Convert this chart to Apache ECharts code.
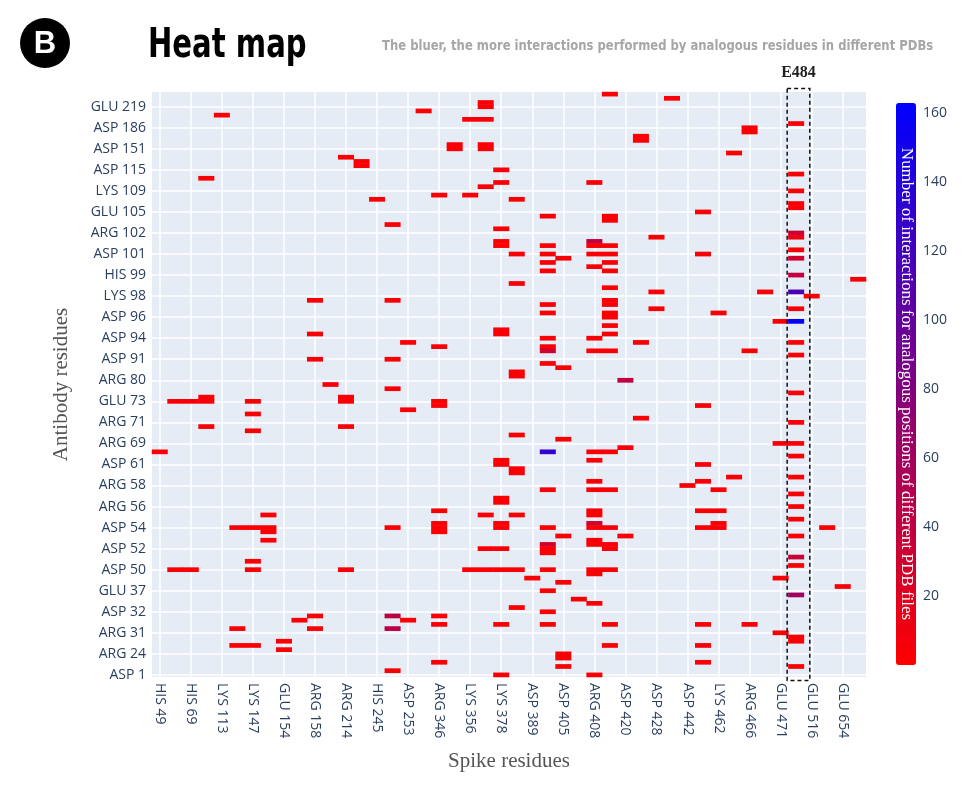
<!DOCTYPE html>
<html><head><meta charset="utf-8">
<script src="https://cdn.jsdelivr.net/npm/echarts@6/dist/echarts.min.js"></script>
<style>html,body{margin:0;padding:0;background:#fff}#c{width:964px;height:786px}</style>
</head><body><div id="c"></div>
<script>
// ---- data ----
const xTickLabels = ['HIS 49','HIS 69','LYS 113','LYS 147','GLU 154','ARG 158','ARG 214','HIS 245','ASP 253','ARG 346','LYS 356','LYS 378','ASP 389','ASP 405','ARG 408','ASP 420','ASP 428','ASP 442','LYS 462','ARG 466','GLU 471','GLU 516','GLU 654'];
const yTickLabels = ['ASP 1','ARG 24','ARG 31','ASP 32','GLU 37','ASP 50','ASP 52','ASP 54','ARG 56','ARG 58','ASP 61','ARG 69','ARG 71','GLU 73','ARG 80','ASP 91','ASP 94','ASP 96','LYS 98','HIS 99','ASP 101','ARG 102','GLU 105','LYS 109','ASP 115','ASP 151','ASP 186','GLU 219'];
const xCount = 46;       // spike residues (every 2nd labelled)
const yCount = 139;      // antibody residues (every 5th labelled)
const xLabelStep = 2, yLabelStep = 5;
const e484Index = 41;
const colorTicks = [20,40,60,80,100,120,140,160];
const colorMin = 0, colorMax = 163;
// [spike index, antibody index, number of interactions]
const cells = [
[29,138,3],[33,137,3],[21,136,3],[21,135,3],[17,134,3],[4,133,3],[20,132,3],[21,132,3],[41,131,3],
[38,130,3],[38,129,3],[31,128,3],[31,127,3],[19,126,3],[21,126,3],[19,125,3],[21,125,3],[37,124,3],
[12,123,3],[13,122,3],[13,121,3],[22,120,3],[41,119,3],[3,118,3],[22,117,3],[28,117,3],[21,116,3],
[41,115,3],[18,114,3],[20,114,3],[14,113,3],[23,113,3],[41,112,3],[41,111,3],[35,110,3],[25,109,3],
[29,109,3],[29,108,3],[15,107,3],[22,106,3],[41,105,35],[32,104,3],[41,104,10],[22,103,3],[28,103,40],
[22,102,3],[25,102,3],[28,102,3],[29,102,3],[41,101,3],[23,100,3],[25,100,3],[28,100,3],[29,100,3],
[35,100,3],[26,99,3],[41,99,30],[25,98,3],[29,98,3],[28,97,3],[25,96,3],[29,96,3],[41,95,40],[45,94,3],
[23,93,3],[29,92,3],[32,91,3],[39,91,3],[41,91,115],[42,90,3],[10,89,3],[15,89,3],[29,89,3],[25,88,3],
[29,88,3],[32,87,3],[41,87,3],[25,86,3],[29,86,3],[36,86,3],[29,85,3],[40,84,3],[41,84,162],[29,83,3],
[22,82,3],[10,81,3],[22,81,3],[29,81,3],[25,80,3],[28,80,3],[16,79,3],[31,79,3],[41,79,3],[18,78,3],
[25,78,3],[25,77,30],[28,77,3],[29,77,3],[38,77,3],[41,76,3],[10,75,3],[15,75,3],[25,74,3],[26,73,3],
[23,72,3],[23,71,3],[30,70,40],[11,69,3],[15,68,3],[41,67,3],[3,66,3],[12,66,3],[1,65,3],[2,65,3],
[3,65,3],[6,65,3],[12,65,3],[18,65,3],[18,64,3],[35,64,3],[16,63,3],[6,62,3],[31,61,3],[41,60,3],
[3,59,3],[12,59,3],[6,58,3],[23,57,3],[26,56,3],[40,55,3],[41,55,3],[30,54,3],[0,53,3],[25,53,130],
[28,53,3],[29,53,3],[41,52,3],[22,51,3],[28,51,3],[22,50,3],[35,50,3],[23,49,3],[23,48,3],[37,47,3],
[41,47,3],[28,46,3],[35,46,3],[34,45,3],[25,44,3],[28,44,3],[29,44,3],[36,44,3],[41,43,3],[22,42,3],
[22,41,3],[41,40,3],[18,39,3],[28,39,3],[35,39,3],[36,39,3],[7,38,3],[21,38,3],[23,38,3],[28,38,3],
[41,37,3],[18,36,3],[22,36,3],[28,36,30],[36,36,3],[5,35,3],[6,35,3],[7,35,3],[15,35,3],[18,35,3],
[22,35,3],[25,35,3],[28,35,3],[29,35,3],[35,35,3],[36,35,3],[43,35,3],[7,34,3],[18,34,3],[26,33,3],
[30,33,3],[41,33,3],[7,32,3],[28,32,3],[25,31,30],[28,31,3],[29,31,3],[21,30,3],[22,30,3],[25,30,3],
[29,30,3],[25,29,3],[41,28,35],[6,27,3],[41,26,3],[1,25,3],[2,25,3],[6,25,3],[12,25,3],[20,25,3],
[21,25,3],[22,25,3],[23,25,3],[25,25,3],[28,25,3],[29,25,3],[28,24,3],[24,23,3],[40,23,3],[26,22,3],
[44,21,3],[25,20,3],[41,19,60],[27,18,3],[28,17,3],[23,16,3],[25,15,3],[10,14,3],[15,14,45],[18,14,3],
[9,13,3],[16,13,3],[18,12,3],[22,12,3],[25,12,3],[29,12,3],[35,12,3],[38,12,3],[5,11,3],[10,11,3],
[15,11,45],[40,10,3],[41,9,3],[8,8,3],[41,8,3],[5,7,3],[6,7,3],[29,7,3],[35,7,3],[8,6,3],[26,5,3],
[26,4,3],[18,3,3],[35,3,3],[26,2,3],[41,2,3],[15,1,3],[22,0,3],[28,0,3]
];

// ---- categories built from tick labels ----
const xCategories = Array.from({length: xCount}, (_, i) =>
  i % xLabelStep === 0 ? xTickLabels[i / xLabelStep] : (i === e484Index ? 'GLU 484' : ''));
const yCategories = Array.from({length: yCount}, (_, i) =>
  i % yLabelStep === 0 && yTickLabels[i / yLabelStep] ? yTickLabels[i / yLabelStep] : '');

const tickColor = '#2a3f5f';
const chart = echarts.init(document.getElementById('c'), null, {renderer: 'canvas'});
const option = {
  animation: false,
  backgroundColor: '#ffffff',
  grid: [
    {left: 152, right: 98, top: 92, bottom: 109, show: true, backgroundColor: '#e5ecf6', borderWidth: 0},
    {left: 896, top: 103, width: 20, height: 562, show: false}
  ],
  xAxis: [
    {type: 'category', gridIndex: 0, data: xCategories,
     axisLine: {show: false}, axisTick: {show: false},
     axisLabel: {interval: xLabelStep - 1, rotate: -90, margin: 6, color: tickColor, fontSize: 14, fontFamily: 'Open Sans'},
     splitLine: {show: true, interval: xLabelStep - 1, alignWithLabel: true, lineStyle: {color: '#ffffff', width: 1.5}},
     name: 'Spike residues', nameLocation: 'middle', nameGap: 74,
     nameTextStyle: {fontFamily: 'Liberation Serif', fontSize: 21, color: '#555555'}},
    {type: 'value', gridIndex: 1, show: false, min: 0, max: 1}
  ],
  yAxis: [
    {type: 'category', gridIndex: 0, data: yCategories,
     axisLine: {show: false}, axisTick: {show: false},
     axisLabel: {interval: yLabelStep - 1, margin: 6, color: tickColor, fontSize: 14, fontFamily: 'Open Sans'},
     splitLine: {show: true, interval: yLabelStep - 1, alignWithLabel: true, lineStyle: {color: '#ffffff', width: 1.5}},
     name: 'Antibody residues', nameLocation: 'middle', nameGap: 80,
     nameTextStyle: {fontFamily: 'Liberation Serif', fontSize: 21, color: '#555555'}},
    {type: 'value', gridIndex: 1, position: 'right', min: colorMin, max: colorMax, interval: 20,
     axisLine: {show: false}, axisTick: {show: false}, splitLine: {show: false},
     axisLabel: {margin: 7, color: tickColor, fontSize: 14, fontFamily: 'Open Sans',
       formatter: v => colorTicks.indexOf(v) >= 0 ? String(v) : ''}}
  ],
  visualMap: {
    type: 'continuous', min: colorMin, max: colorMax, dimension: 2, seriesIndex: 0,
    left: 896, top: 103, itemWidth: 20, itemHeight: 562, padding: 0,
    calculable: false, orient: 'vertical',
    inRange: {color: ['#ff0000', '#0000ff']}
  },
  series: [{
    type: 'heatmap', xAxisIndex: 0, yAxisIndex: 0, data: cells,
    itemStyle: {borderWidth: 0}, emphasis: {disabled: true}
  }],
  graphic: []
};
chart.setOption(option);

// annotations positioned through the chart's own scales
const p = chart.convertToPixel({xAxisIndex: 0, yAxisIndex: 0}, [e484Index, 0]);
const pTop = chart.convertToPixel({xAxisIndex: 0, yAxisIndex: 0}, [e484Index, yCount - 1]);
const bandW = chart.convertToPixel({xAxisIndex: 0}, 1) - chart.convertToPixel({xAxisIndex: 0}, 0);
const bandH = p[1] - chart.convertToPixel({yAxisIndex: 0}, 1);
const boxL = p[0] - 0.58 * bandW, boxR = p[0] + 0.88 * bandW;
const boxT = pTop[1] - 0.5 * bandH - 3.5, boxB = p[1] + 0.5 * bandH + 3.5;

chart.setOption({graphic: [
  {type: 'circle', shape: {cx: 45, cy: 43, r: 25}, style: {fill: '#000'}},
  {type: 'text', x: 45, y: 44, style: {text: 'B', fill: '#fff', font: 'bold 31px "Liberation Sans"', align: 'center', verticalAlign: 'middle'}},
  {type: 'text', x: 148, y: 46, scaleX: 0.71, style: {text: 'Heat map', fill: '#000', font: 'bold 41px "DejaVu Sans"', align: 'left', verticalAlign: 'middle'}},
  {type: 'text', x: 382, y: 46, scaleX: 0.83, style: {text: 'The bluer, the more interactions performed by analogous residues in different PDBs', fill: '#a6a6a6', font: 'bold 14px "DejaVu Sans"', align: 'left', verticalAlign: 'middle'}},
  {type: 'text', x: (boxL + boxR) / 2, y: 73, style: {text: 'E484', fill: '#222', font: 'bold 16px "Liberation Serif"', align: 'center', verticalAlign: 'middle'}},
  {type: 'rect', z: 100, shape: {x: boxL, y: boxT, width: boxR - boxL, height: boxB - boxT},
   style: {fill: 'none', stroke: '#111', lineWidth: 1.5, lineDash: [4, 3]}},
  {type: 'text', z: 100, x: 906, y: 384, rotation: -Math.PI / 2,
   style: {text: 'Number of interactions for analogous positions of different PDB files', fill: '#ffffff', font: '17px "Liberation Serif"', align: 'center', verticalAlign: 'middle'}}
]});
</script></body></html>
